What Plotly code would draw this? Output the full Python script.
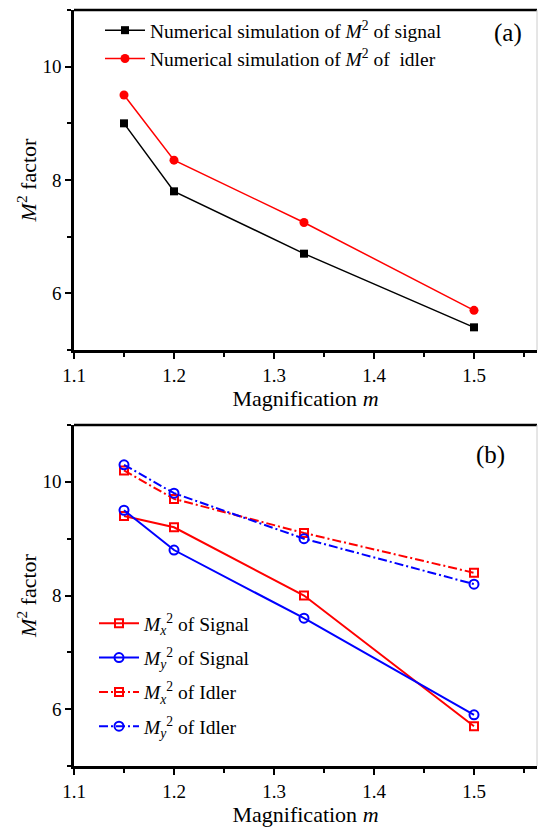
import plotly.graph_objects as go

# ---- data ----
m_vals = [1.15, 1.2, 1.33, 1.5]

# panel (a)
sim_signal = [9.0, 7.8, 6.7, 5.4]
sim_idler = [9.5, 8.35, 7.25, 5.7]

# panel (b)
mx_signal = [9.4, 9.2, 8.0, 5.7]
my_signal = [9.5, 8.8, 7.6, 5.9]
mx_idler = [10.2, 9.7, 9.1, 8.4]
my_idler = [10.3, 9.8, 9.0, 8.2]

x_ticks = [1.1, 1.2, 1.3, 1.4, 1.5]
y_ticks = [6, 8, 10]

FONT = "Liberation Serif"
RED = "#ff0000"
BLUE = "#0000ff"
DASHDOT = "9px,3px,2px,3px"

fig = go.Figure()

# panel (a)
fig.add_trace(go.Scatter(
    x=m_vals, y=sim_signal, mode="lines+markers",
    name="Numerical simulation of <i>M</i><sup>2</sup> of signal",
    line=dict(color="black", width=1.5),
    marker=dict(symbol="square", size=8, color="black"),
    xaxis="x", yaxis="y", legend="legend"))
fig.add_trace(go.Scatter(
    x=m_vals, y=sim_idler, mode="lines+markers",
    name="Numerical simulation of <i>M</i><sup>2</sup> of  idler",
    line=dict(color=RED, width=1.5),
    marker=dict(symbol="circle", size=9, color=RED),
    xaxis="x", yaxis="y", legend="legend"))

# panel (b)
fig.add_trace(go.Scatter(
    x=m_vals, y=mx_signal, mode="lines+markers",
    name="<i>M</i><sub><i>x</i></sub><sup>2</sup> of Signal", legendgroup="g1",
    line=dict(color=RED, width=2),
    marker=dict(symbol="square-open", size=8, color=RED, line=dict(width=2)),
    xaxis="x2", yaxis="y2", legend="legend2"))
fig.add_trace(go.Scatter(
    x=m_vals, y=my_signal, mode="lines+markers",
    name="<i>M</i><sub><i>y</i></sub><sup>2</sup> of Signal", legendgroup="g2",
    line=dict(color=BLUE, width=2),
    marker=dict(symbol="circle-open", size=9, color=BLUE, line=dict(width=2)),
    xaxis="x2", yaxis="y2", legend="legend2"))
fig.add_trace(go.Scatter(
    x=m_vals, y=mx_idler, mode="lines+markers",
    name="<i>M</i><sub><i>x</i></sub><sup>2</sup> of Idler", legendgroup="g3",
    line=dict(color=RED, width=2, dash=DASHDOT),
    marker=dict(symbol="square-open", size=8, color=RED, line=dict(width=2)),
    xaxis="x2", yaxis="y2", legend="legend2"))
fig.add_trace(go.Scatter(
    x=m_vals, y=my_idler, mode="lines+markers",
    name="<i>M</i><sub><i>y</i></sub><sup>2</sup> of Idler", legendgroup="g4",
    line=dict(color=BLUE, width=2, dash=DASHDOT),
    marker=dict(symbol="circle-open", size=9, color=BLUE, line=dict(width=2)),
    xaxis="x2", yaxis="y2", legend="legend2"))

W, H = 539, 829
xdom = [74 / W, 537 / W]
ydom_a = [1 - 350 / H, 1 - 10 / H]
ydom_b = [1 - 766 / H, 1 - 425 / H]

def xaxis(dom_anchor):
    return dict(
        domain=xdom, anchor=dom_anchor, range=[1.1, 1.563], automargin=False,
        tickvals=x_ticks, ticktext=[f"{v:.1f}" for v in x_ticks],
        ticks="outside", ticklen=6, tickwidth=2, tickcolor="black",
        minor=dict(ticks="outside", ticklen=4, tickwidth=2, tickcolor="black",
                   dtick=0.05, tick0=1.1),
        showline=True, linecolor="black", linewidth=2.5,
        showgrid=False, zeroline=False,
        tickfont=dict(family=FONT, size=19, color="black"),
        title=dict(text="Magnification <i>m</i>",
                   font=dict(family=FONT, size=22, color="black"), standoff=2),
    )

def yaxis(dom, anchor):
    return dict(
        domain=dom, anchor=anchor, range=[5, 11], automargin=False,
        tickvals=y_ticks,
        ticks="outside", ticklen=6, tickwidth=2, tickcolor="black",
        minor=dict(ticks="outside", ticklen=4, tickwidth=2, tickcolor="black",
                   dtick=1, tick0=0),
        showline=True, linecolor="black", linewidth=2.5,
        showgrid=False, zeroline=False,
        tickfont=dict(family=FONT, size=19, color="black"),
        title=dict(text="<i>M</i><sup>2</sup> factor",
                   font=dict(family=FONT, size=22, color="black"), standoff=0),
    )

fig.update_layout(
    width=W, height=H,
    margin=dict(l=0, r=0, t=0, b=0, autoexpand=False),
    paper_bgcolor="white", plot_bgcolor="white",
    font=dict(family=FONT, color="black"),
    xaxis=xaxis("y"), yaxis=yaxis(ydom_a, "x"),
    xaxis2=xaxis("y2"), yaxis2=yaxis(ydom_b, "x2"),
    legend=dict(x=100 / W, y=1 - 11 / H, xanchor="left", yanchor="top",
                bgcolor="rgba(0,0,0,0)", borderwidth=0, itemwidth=40,
                font=dict(family=FONT, size=19.5, color="black"),
                tracegroupgap=0),
    legend2=dict(x=94 / W, y=1 - 604 / H, xanchor="left", yanchor="top",
                 bgcolor="rgba(0,0,0,0)", borderwidth=0, itemwidth=40,
                 font=dict(family=FONT, size=19.5, color="black"),
                 tracegroupgap=6),
    showlegend=True,
)

# borders: thick top, thin grey right
for xr, yr in (("x domain", "y domain"), ("x2 domain", "y2 domain")):
    fig.add_shape(type="line", xref=xr, yref=yr, x0=0, x1=1, y0=1, y1=1,
                  line=dict(color="black", width=2.5))
    fig.add_shape(type="line", xref=xr, yref=yr, x0=1, x1=1, y0=0, y1=1,
                  line=dict(color="#cccccc", width=1))

fig.add_annotation(text="(a)", xref="paper", yref="paper", x=508 / W, y=1 - 33 / H,
                   xanchor="center", yanchor="middle",
                   showarrow=False, font=dict(family=FONT, size=25, color="black"))
fig.add_annotation(text="(b)", xref="paper", yref="paper", x=490 / W, y=1 - 455 / H,
                   xanchor="center", yanchor="middle",
                   showarrow=False, font=dict(family=FONT, size=25, color="black"))

fig.write_html("out.html")
